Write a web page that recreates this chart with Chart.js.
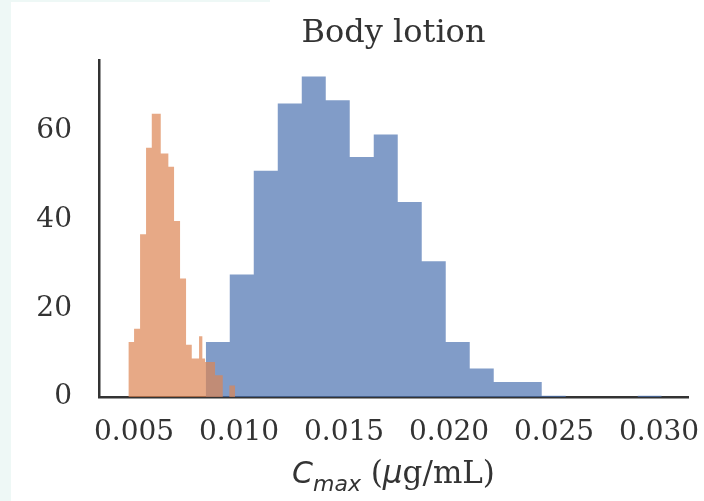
<!DOCTYPE html>
<html>
<head>
<meta charset="utf-8">
<script src="https://cdn.jsdelivr.net/npm/chart.js@4/dist/chart.umd.min.js"></script>
<style>
  body { margin: 0; background: #ffffff; }
  .strip-left { position: absolute; left: 0; top: 0; width: 11px; height: 501px; background: #eef8f6; }
  .strip-top { position: absolute; left: 0; top: 0; width: 270px; height: 2px; background: #eef8f6; }
  #wrap { position: absolute; left: 0; top: 0; width: 704px; height: 501px; }
</style>
</head>
<body>
<div class="strip-left"></div>
<div class="strip-top"></div>
<div id="wrap"><canvas id="histChart"></canvas></div>
<script>
// histogram bin edges (ug/mL) and heights
const blueEdges = [0.008414, 0.009557, 0.010700, 0.011843, 0.012986, 0.014129, 0.015271,
    0.016414, 0.017557, 0.018700, 0.019843, 0.020986, 0.022129, 0.023271, 0.024414,
    0.025557, 0.026700, 0.027843, 0.028986, 0.030129];
const blueCounts = [12.4, 27.6, 51.0, 66.2, 72.3, 66.9, 54.1, 59.2, 44.0, 30.6,
    12.4, 6.4, 3.4, 3.4, 0.3, 0, 0, 0, 0.3];

const orangeEdges = [0.004729, 0.005000, 0.005286, 0.005571, 0.005843, 0.006271, 0.006633,
    0.006905, 0.007190, 0.007476, 0.007748, 0.008095, 0.008252, 0.008381, 0.008857,
    0.009224, 0.009538, 0.009810];
const orangeCounts = [12.4, 15.4, 36.7, 56.2, 63.9, 54.9, 51.9, 39.7, 26.7, 11.8,
    8.7, 13.7, 8.7, 7.9, 4.9, 0, 2.6];

const xTicks = [0.005, 0.010, 0.015, 0.020, 0.025, 0.030];
const yTicks = [0, 20, 40, 60];

const FONT = "'DejaVu Serif'";
const TEXT = "#333333";

// turn edges + heights into the outline points of a filled step histogram
function stepPoints(edges, counts) {
    const pts = [{ x: edges[0], y: 0 }];
    counts.forEach((c, i) => pts.push({ x: edges[i], y: c }));
    pts.push({ x: edges[edges.length - 1], y: 0 });
    return pts;
}

// draws a row of text pieces centred on the plot area
function drawPieces(ctx, parts, cx, base) {
    let total = 0;
    parts.forEach(p => { ctx.font = p.font; p.w = ctx.measureText(p.t).width; total += p.w; });
    let x = cx - total / 2;
    parts.forEach(p => {
        ctx.font = p.font;
        ctx.fillText(p.t, x, base + (p.dy || 0));
        x += p.w;
    });
}

// title and x axis label (with subscript), centred over the axes like matplotlib
const labelsPlugin = {
    id: "labels",
    afterDraw(chart) {
        const ctx = chart.ctx;
        const area = chart.chartArea;
        const cx = (area.left + area.right) / 2;
        ctx.save();
        ctx.fillStyle = TEXT;
        ctx.textBaseline = "alphabetic";
        ctx.textAlign = "left";
        drawPieces(ctx, [{ t: "Body lotion", font: "32px " + FONT }], cx, 42);
        drawPieces(ctx, [
            { t: "C", font: "italic 30px 'DejaVu Sans'" },
            { t: "max", font: "italic 22px 'DejaVu Sans'", dy: 8 },
            { t: " (", font: "31px " + FONT },
            { t: "\u03bc", font: "italic 31px 'DejaVu Sans'" },
            { t: "g/mL)", font: "31px " + FONT },
        ], cx, 483);
        ctx.restore();
    },
};

const ctx = document.getElementById("histChart").getContext("2d");
new Chart(ctx, {
    type: "line",
    data: {
        datasets: [{
            label: "orange",
            data: stepPoints(orangeEdges, orangeCounts),
            stepped: true,
            fill: "origin",
            backgroundColor: "rgba(221, 132, 82, 0.7)",
            borderColor: "transparent",
            borderWidth: 0,
            pointRadius: 0,
            tension: 0,
        }, {
            label: "blue",
            data: stepPoints(blueEdges, blueCounts),
            stepped: true,
            fill: "origin",
            backgroundColor: "rgba(76, 114, 176, 0.7)",
            borderColor: "transparent",
            borderWidth: 0,
            pointRadius: 0,
            tension: 0,
        }],
    },
    options: {
        responsive: true,
        maintainAspectRatio: false,
        animation: false,
        layout: { padding: { left: 0, right: 16, top: 60, bottom: 0 } },
        plugins: {
            legend: { display: false },
            tooltip: { enabled: false },
            title: { display: false },
        },
        scales: {
            x: {
                type: "linear",
                min: 0.00333,
                max: 0.03138,
                afterBuildTicks: scale => { scale.ticks = xTicks.map(v => ({ value: v })); },
                afterFit: scale => {
                    scale.height = 104;
                    scale.paddingLeft = 0;
                    scale.paddingRight = 0;
                },
                grid: { display: false, drawTicks: false },
                border: { display: true, color: "#333333", width: 2.5 },
                ticks: {
                    color: TEXT,
                    padding: 19,
                    maxRotation: 0,
                    font: { family: FONT, size: 28 },
                    callback: v => v.toFixed(3),
                },
            },
            y: {
                min: 0,
                max: 76,
                afterBuildTicks: scale => { scale.ticks = yTicks.map(v => ({ value: v })); },
                afterFit: scale => {
                    scale.width = 99;
                    scale.paddingTop = 0;
                    scale.paddingBottom = 0;
                },
                grid: { display: false, drawTicks: false },
                border: { display: true, color: "#333333", width: 2.5 },
                ticks: {
                    color: TEXT,
                    padding: 27,
                    font: { family: FONT, size: 28 },
                },
            },
        },
    },
    plugins: [labelsPlugin],
});
</script>
</body>
</html>
